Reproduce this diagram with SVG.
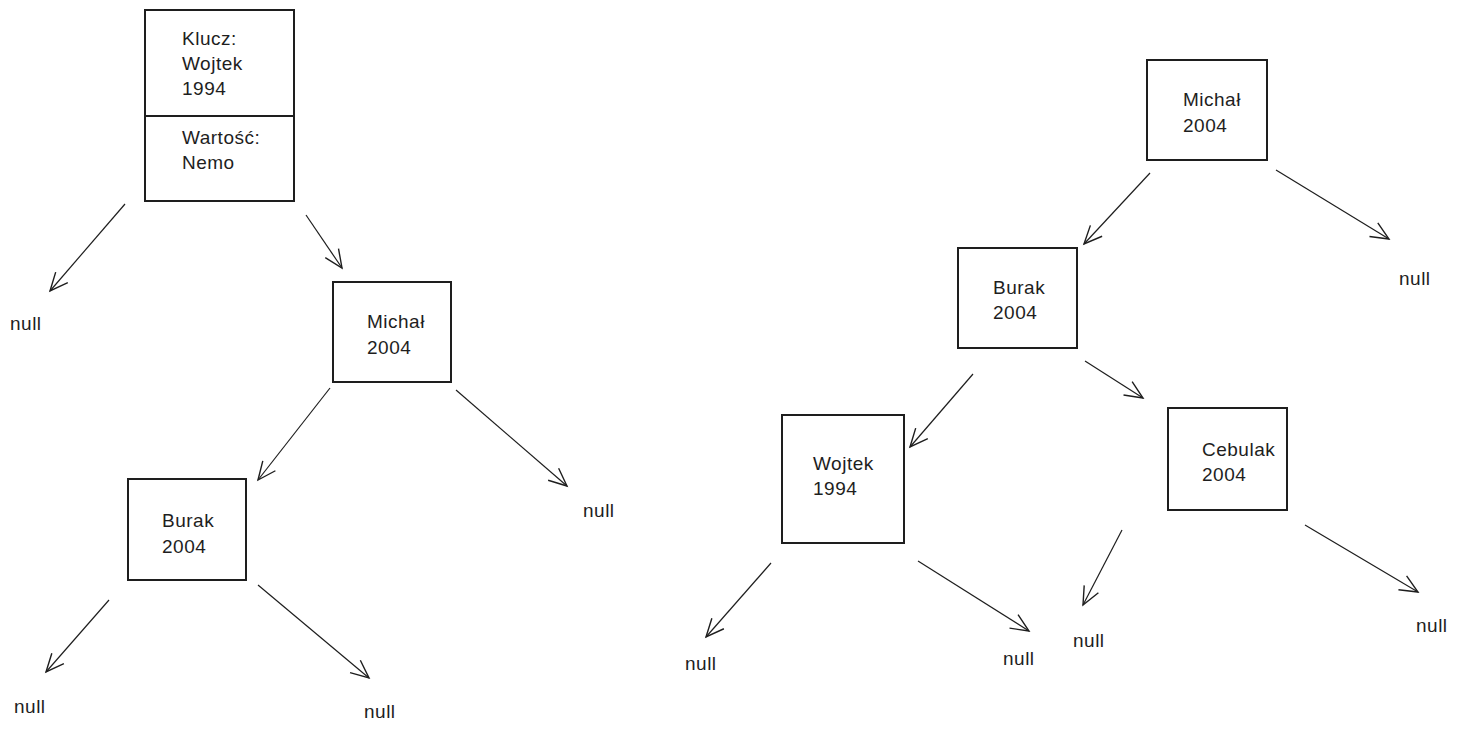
<svg xmlns="http://www.w3.org/2000/svg" width="1458" height="736" viewBox="0 0 1458 736">
<defs>
<style>
.box{fill:#fff;stroke:#1e1e1e;stroke-width:2}
.t{font-family:"Liberation Sans",Arial,sans-serif;font-size:19px;fill:#1e1e1e;letter-spacing:0.5px}
.c{fill:none;stroke:#1e1e1e;stroke-width:1.2;marker-end:url(#ah)}
</style>
<marker id="ah" viewBox="0 0 24 24" refX="20" refY="12" markerWidth="24" markerHeight="24" markerUnits="userSpaceOnUse" orient="auto">
<path d="M2 4 L20 12 L2 20" fill="none" stroke="#1e1e1e" stroke-width="1.4"/>
</marker>
</defs>
<rect width="1458" height="736" fill="#fff"/>
<g id="connectors">
<line class="c" x1="125" y1="204" x2="50" y2="291"/>
<line class="c" x1="306" y1="215" x2="342" y2="268"/>
<line class="c" x1="330" y1="388" x2="258" y2="480"/>
<line class="c" x1="456" y1="390" x2="567" y2="486"/>
<line class="c" x1="109" y1="600" x2="46" y2="672"/>
<line class="c" x1="258" y1="585" x2="369" y2="678"/>
<line class="c" x1="1150" y1="173" x2="1084" y2="244"/>
<line class="c" x1="1276" y1="170" x2="1389" y2="239"/>
<line class="c" x1="973" y1="374" x2="910" y2="447"/>
<line class="c" x1="1085" y1="361" x2="1143" y2="398"/>
<line class="c" x1="771" y1="563" x2="706" y2="637"/>
<line class="c" x1="918" y1="561" x2="1029" y2="631"/>
<line class="c" x1="1122" y1="530" x2="1083" y2="605"/>
<line class="c" x1="1305" y1="525" x2="1418" y2="592"/>
</g>
<g id="root-left">
<rect class="box" x="145" y="10" width="149" height="191"/>
<line x1="145" y1="116" x2="294" y2="116" stroke="#1e1e1e" stroke-width="2"/>
<text class="t" x="182" y="45">Klucz:</text>
<text class="t" x="182" y="70">Wojtek</text>
<text class="t" x="182" y="95">1994</text>
<text class="t" x="182" y="144">Wartość:</text>
<text class="t" x="182" y="169">Nemo</text>
</g>
<g id="michal-left">
<rect class="box" x="333" y="282" width="118" height="100"/>
<text class="t" x="367" y="328">Michał</text>
<text class="t" x="367" y="354">2004</text>
</g>
<g id="burak-left">
<rect class="box" x="128" y="479" width="118" height="101"/>
<text class="t" x="162" y="527">Burak</text>
<text class="t" x="162" y="553">2004</text>
</g>
<g id="michal-right">
<rect class="box" x="1147" y="60" width="120" height="100"/>
<text class="t" x="1183" y="106">Michał</text>
<text class="t" x="1183" y="132">2004</text>
</g>
<g id="burak-right">
<rect class="box" x="958" y="248" width="119" height="100"/>
<text class="t" x="993" y="294">Burak</text>
<text class="t" x="993" y="319">2004</text>
</g>
<g id="wojtek-right">
<rect class="box" x="782" y="415" width="122" height="128"/>
<text class="t" x="813" y="470">Wojtek</text>
<text class="t" x="813" y="495">1994</text>
</g>
<g id="cebulak-right">
<rect class="box" x="1168" y="408" width="119" height="102"/>
<text class="t" x="1202" y="456">Cebulak</text>
<text class="t" x="1202" y="481">2004</text>
</g>
<g id="nulls">
<text class="t" x="10" y="330">null</text>
<text class="t" x="583" y="517">null</text>
<text class="t" x="14" y="713">null</text>
<text class="t" x="364" y="718">null</text>
<text class="t" x="1399" y="285">null</text>
<text class="t" x="685" y="670">null</text>
<text class="t" x="1003" y="665">null</text>
<text class="t" x="1073" y="647">null</text>
<text class="t" x="1416" y="632">null</text>
</g>
</svg>
